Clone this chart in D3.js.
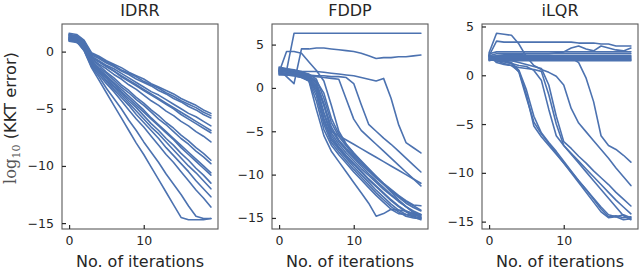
<!DOCTYPE html>
<html><head><meta charset="utf-8">
<script src="https://cdn.jsdelivr.net/npm/d3@7"></script>
<style>
body{margin:0;background:#fff}
svg{display:block}
text{font-family:"DejaVu Sans",sans-serif;fill:#262626}
</style>
</head><body>
<svg id="chart" width="640" height="271"></svg>
<script>
const iterations = [0,1,2,3,4,5,6,7,8,9,10,11,12,13,14,15,16,17,18,19];
const titles = ["IDRR","FDDP","iLQR"];
const xTickValues = [0,10];
const idrrTicks = [0,-5,-10,-15];
const fddpTicks = [5,0,-5,-10,-15];
const ilqrTicks = [5,0,-5,-10,-15];
const xLabel = "No. of iterations";

const idrrSeries = [
 [1.6,1.5,1.0,-0.1,-0.4,-0.8,-1.1,-1.4,-1.8,-2.1,-2.4,-2.8,-3.1,-3.4,-3.7,-4.1,-4.4,-4.7,-5.1,-5.4],
 [1.5,1.4,0.9,-0.2,-0.5,-0.9,-1.2,-1.6,-1.9,-2.2,-2.6,-2.9,-3.2,-3.6,-3.9,-4.3,-4.6,-4.9,-5.3,-5.6],
 [1.4,1.3,0.9,-0.3,-0.6,-1.0,-1.3,-1.7,-2.0,-2.4,-2.7,-3.0,-3.4,-3.7,-4.1,-4.4,-4.8,-5.1,-5.5,-5.8],
 [1.3,1.2,0.8,-0.4,-0.8,-1.2,-1.5,-1.9,-2.3,-2.7,-3.1,-3.5,-3.8,-4.2,-4.6,-5.0,-5.4,-5.7,-6.1,-6.5],
 [1.2,1.1,0.7,-0.5,-0.9,-1.3,-1.7,-2.1,-2.5,-2.9,-3.3,-3.7,-4.1,-4.5,-4.9,-5.3,-5.7,-6.1,-6.5,-6.9],
 [1.5,1.3,0.8,-0.5,-0.9,-1.3,-1.7,-2.2,-2.6,-3.0,-3.4,-3.8,-4.2,-4.6,-5.0,-5.5,-5.9,-6.3,-6.7,-7.1],
 [1.1,1.0,0.6,-0.6,-1.1,-1.5,-2.0,-2.4,-2.9,-3.3,-3.8,-4.3,-4.7,-5.2,-5.6,-6.1,-6.5,-7.0,-7.4,-7.9],
 [1.4,1.2,0.6,-0.7,-1.2,-1.8,-2.3,-2.9,-3.4,-4.0,-4.5,-5.1,-5.6,-6.2,-6.7,-7.3,-7.8,-8.4,-8.9,-9.5],
 [1.0,0.9,0.5,-0.8,-1.4,-1.9,-2.5,-3.1,-3.6,-4.2,-4.7,-5.3,-5.9,-6.4,-7.0,-7.6,-8.1,-8.7,-9.2,-9.8],
 [1.3,1.1,0.5,-0.9,-1.5,-2.1,-2.7,-3.3,-3.9,-4.5,-5.1,-5.8,-6.4,-7.0,-7.6,-8.2,-8.8,-9.4,-10.0,-10.6],
 [0.9,0.8,0.4,-1.0,-1.6,-2.2,-2.8,-3.5,-4.1,-4.7,-5.3,-5.9,-6.5,-7.1,-7.7,-8.4,-9.0,-9.6,-10.2,-10.8],
 [1.2,1.0,0.4,-1.0,-1.7,-2.3,-3.0,-3.6,-4.3,-4.9,-5.6,-6.3,-6.9,-7.6,-8.2,-8.9,-9.5,-10.2,-10.8,-11.5],
 [1.1,1.0,0.3,-1.1,-1.8,-2.5,-3.1,-3.8,-4.5,-5.2,-5.9,-6.6,-7.2,-7.9,-8.6,-9.3,-10.0,-10.6,-11.3,-12.0],
 [1.0,0.9,0.3,-1.1,-1.8,-2.6,-3.3,-4.0,-4.7,-5.5,-6.2,-6.9,-7.6,-8.4,-9.1,-9.8,-10.5,-11.3,-12.0,-12.7],
 [1.2,1.0,0.2,-1.2,-2.0,-2.8,-3.5,-4.3,-5.1,-5.9,-6.6,-7.4,-8.2,-9.0,-9.7,-10.5,-11.3,-12.1,-12.8,-13.6],
 [1.0,0.9,0.1,-1.3,-2.2,-3.2,-4.1,-5.0,-6.0,-6.9,-7.9,-8.8,-9.7,-10.7,-11.6,-12.5,-13.5,-14.4,-14.6,-14.6],
 [1.1,0.9,0.1,-1.4,-2.5,-3.6,-4.7,-5.8,-6.9,-8.0,-9.0,-10.1,-11.2,-12.3,-13.4,-14.5,-14.7,-14.7,-14.7,-14.6]
];

const fddpSeries = [
 [1.9,2.0,6.3,6.3,6.3,6.3,6.3,6.3,6.3,6.3,6.3,6.3,6.3,6.3,6.3,6.3,6.3,6.3,6.3,6.3],
 [2.1,1.3,0.5,4.5,4.5,4.6,4.6,4.5,4.4,4.3,4.2,4.0,3.7,3.4,3.5,3.5,3.6,3.6,3.7,3.8],
 [1.8,4.2,4.2,4.0,3.0,2.0,0.8,-2.0,-5.0,-6.5,-7.5,-8.4,-9.3,-10.2,-11.1,-12.0,-12.9,-13.7,-14.4,-15.0],
 [2.0,1.9,1.9,1.9,1.9,1.9,1.8,1.7,1.6,1.5,1.4,1.2,1.0,0.8,1.1,-1.2,-4.2,-6.3,-6.9,-7.5],
 [1.7,1.6,1.6,1.5,1.5,1.4,1.4,1.3,1.3,1.2,0.5,-1.9,-4.2,-5.0,-5.8,-6.5,-7.3,-8.1,-8.9,-9.7],
 [2.2,2.0,1.8,1.6,1.4,1.3,1.2,1.1,1.0,-1.3,-3.6,-4.9,-5.7,-6.5,-7.3,-8.1,-8.9,-9.7,-10.5,-11.3],
 [2.0,1.9,1.8,1.6,1.2,0.3,-2.0,-5.0,-5.5,-6.0,-6.5,-7.0,-7.5,-8.0,-8.5,-9.0,-9.5,-10.0,-10.5,-11.0],
 [1.6,1.5,1.4,1.2,0.8,-2.5,-5.5,-7.3,-8.5,-9.7,-10.9,-12.1,-13.3,-14.8,-14.5,-14.0,-14.1,-14.2,-14.5,-14.6],
 [2.3,2.2,2.1,1.9,1.5,0.5,-2.0,-4.5,-6.0,-7.0,-7.9,-8.8,-9.6,-10.4,-11.1,-11.8,-12.5,-13.1,-13.6,-14.1],
 [1.9,1.8,1.7,1.5,1.0,-0.5,-3.5,-5.8,-6.9,-7.9,-8.8,-9.7,-10.6,-11.4,-12.2,-13.0,-13.7,-14.3,-14.8,-15.0],
 [2.1,2.0,1.9,1.7,1.3,0.2,-2.8,-5.2,-6.5,-7.5,-8.4,-9.3,-10.1,-10.9,-11.7,-12.4,-13.1,-13.7,-14.2,-14.6],
 [1.5,1.5,1.4,1.2,0.9,-0.9,-4.2,-6.3,-7.4,-8.4,-9.4,-10.3,-11.2,-12.1,-12.9,-13.7,-14.3,-14.8,-15.0,-15.1],
 [2.4,2.2,2.0,1.8,1.6,1.0,-1.2,-4.0,-5.6,-6.7,-7.7,-8.6,-9.4,-10.2,-11.0,-11.7,-12.4,-13.0,-13.5,-13.6],
 [1.8,1.7,1.6,1.4,1.1,0.0,-3.0,-5.5,-6.8,-7.8,-8.7,-9.6,-10.5,-11.3,-12.1,-12.9,-13.6,-14.2,-14.6,-14.9],
 [2.0,1.9,1.8,1.6,1.3,0.6,-1.8,-4.8,-6.2,-7.2,-8.1,-9.0,-9.9,-10.7,-11.5,-12.3,-13.0,-13.7,-14.3,-14.8],
 [1.7,1.6,1.5,1.3,1.0,-0.2,-3.8,-6.0,-7.1,-8.1,-9.1,-10.0,-10.9,-11.8,-12.6,-13.4,-14.1,-14.6,-14.9,-15.2],
 [2.2,2.1,2.0,1.8,1.4,0.8,-0.6,-3.5,-5.3,-6.5,-7.5,-8.5,-9.4,-10.3,-11.1,-11.9,-12.6,-13.3,-13.8,-14.2],
 [1.6,1.6,1.5,1.3,0.8,-1.5,-4.8,-6.6,-7.7,-8.7,-9.7,-10.6,-11.5,-12.4,-13.2,-14.0,-14.5,-14.6,-14.7,-14.7]
];

const ilqrSeries = [
 [2.0,1.9,1.9,1.9,1.8,1.8,1.8,1.8,1.8,1.8,1.8,1.8,1.3,-0.3,-2.7,-6.2,-7.2,-7.6,-8.2,-8.9],
 [2.3,4.3,4.2,4.1,3.2,1.9,1.0,0.6,0.3,-0.1,-1.0,-3.4,-4.9,-5.8,-6.7,-7.6,-8.5,-9.5,-10.4,-11.3],
 [1.8,1.7,1.6,1.5,1.3,1.1,0.9,0.7,-1.0,-4.2,-6.8,-7.5,-8.3,-9.0,-9.8,-10.5,-11.2,-12.0,-12.7,-13.4],
 [2.0,1.5,1.2,1.0,0.8,0.7,0.6,0.4,-2.0,-5.0,-7.2,-8.0,-8.8,-9.6,-10.4,-11.2,-12.0,-12.8,-13.5,-14.2],
 [1.6,1.5,1.4,1.2,0.3,-2.3,-4.8,-6.0,-7.0,-8.0,-9.0,-10.0,-11.0,-12.0,-13.0,-14.0,-14.6,-14.5,-14.8,-14.7],
 [1.9,1.7,1.5,1.3,0.5,-1.5,-4.2,-5.9,-6.9,-7.8,-8.8,-9.8,-10.8,-11.7,-12.7,-13.7,-14.5,-14.4,-14.6,-14.5],
 [2.1,1.3,1.1,1.0,0.4,-2.0,-5.2,-6.3,-7.2,-8.1,-9.0,-9.9,-10.8,-11.7,-12.6,-13.5,-14.3,-14.5,-14.3,-14.6],
 [1.7,1.6,1.4,1.2,1.0,0.9,0.5,-0.5,-3.5,-6.2,-7.2,-8.1,-9.0,-9.9,-10.8,-11.7,-12.6,-13.5,-14.4,-14.8],
 [2.0,3.5,3.4,3.4,3.4,3.4,3.4,3.4,3.4,3.4,3.4,3.4,3.3,3.3,3.3,3.2,3.2,3.0,3.0,3.0],
 [1.9,2.0,2.1,2.1,2.1,2.2,2.2,2.2,2.2,2.3,2.4,2.8,3.0,2.7,2.5,3.0,2.8,2.6,2.5,2.8],
 [2.2,2.4,2.4,2.4,2.4,2.4,2.4,2.4,2.4,2.4,2.4,2.4,2.4,2.4,2.4,2.4,2.4,2.4,2.4,2.4],
 [2.0,2.2,2.2,2.2,2.2,2.2,2.2,2.2,2.2,2.2,2.2,2.2,2.2,2.2,2.2,2.2,2.2,2.2,2.2,2.2],
 [1.8,2.0,2.0,2.0,2.0,2.0,2.0,2.0,2.0,2.0,2.0,2.0,2.0,2.0,2.0,2.0,2.0,2.0,2.0,2.0],
 [1.7,1.9,1.9,1.9,1.9,1.9,1.9,1.9,1.9,1.9,1.9,1.9,1.9,1.9,1.9,1.9,1.9,1.9,1.9,1.9],
 [1.6,1.8,1.8,1.8,1.8,1.8,1.8,1.8,1.8,1.8,1.8,1.8,1.8,1.8,1.8,1.8,1.8,1.8,1.8,1.8],
 [1.5,1.7,1.7,1.7,1.7,1.7,1.7,1.7,1.7,1.7,1.7,1.7,1.7,1.7,1.7,1.7,1.7,1.7,1.7,1.7],
 [2.1,1.6,1.6,1.6,1.6,1.6,1.6,1.6,1.6,1.6,1.6,1.6,1.6,1.6,1.6,1.6,1.6,1.6,1.6,1.6],
 [1.9,1.5,1.5,1.5,1.5,1.5,1.5,1.5,1.5,1.5,1.5,1.5,1.5,1.5,1.5,1.5,1.5,1.5,1.5,1.5]
];

const panels = [
  {title: titles[0], series: idrrSeries, ticks: idrrTicks, left: 62},
  {title: titles[1], series: fddpSeries, ticks: fddpTicks, left: 272},
  {title: titles[2], series: ilqrSeries, ticks: ilqrTicks, left: 482}
];
const W = 156, TOP = 24, BOTTOM = 229;
const color = "#4c72b0";
const svg = d3.select("#chart");

function padded(ext){ const r = ext[1]-ext[0]; return [ext[0]-0.05*r, ext[1]+0.05*r]; }

panels.forEach(p => {
  const g = svg.append("g");
  const x = d3.scaleLinear().domain(padded(d3.extent(iterations))).range([p.left, p.left+W]);
  const allVals = p.series.flat();
  const y = d3.scaleLinear().domain(padded(d3.extent(allVals))).range([BOTTOM, TOP]);
  const line = d3.line().x((d,i)=>x(iterations[i])).y(d=>y(d));
  g.append("g").selectAll("path").data(p.series).join("path")
    .attr("d", line).attr("fill","none").attr("stroke",color)
    .attr("stroke-width",1.6).attr("stroke-linejoin","round").attr("stroke-linecap","round");
  g.append("rect").attr("x",p.left).attr("y",TOP).attr("width",W).attr("height",BOTTOM-TOP)
    .attr("fill","none").attr("stroke","#5a5a5a").attr("stroke-width",1.1);
  const yAxis = d3.axisLeft(y).tickValues(p.ticks).tickSize(-4).tickPadding(8)
    .tickFormat(d => d < 0 ? "\u2212" + Math.abs(d) : String(d));
  const ya = g.append("g").attr("transform",`translate(${p.left},0)`).call(yAxis);
  ya.select(".domain").remove();
  ya.selectAll(".tick line").attr("stroke","#262626").attr("stroke-width",1.2);
  ya.selectAll(".tick text").attr("font-size",12.5).attr("font-family","DejaVu Sans").attr("fill","#262626");
  const xAxis = d3.axisBottom(x).tickValues(xTickValues).tickSize(-4).tickPadding(7);
  const xa = g.append("g").attr("transform",`translate(0,${BOTTOM})`).call(xAxis);
  xa.select(".domain").remove();
  xa.selectAll(".tick line").attr("stroke","#262626").attr("stroke-width",1.2);
  xa.selectAll(".tick text").attr("font-size",12.5).attr("font-family","DejaVu Sans").attr("fill","#262626");
  g.append("text").attr("x",p.left+W/2).attr("y",16).attr("text-anchor","middle")
    .attr("font-size",16).text(p.title);
  g.append("text").attr("x",p.left+W/2).attr("y",266.5).attr("text-anchor","middle")
    .attr("font-size",16).text(xLabel);
});

const yl = svg.append("text").attr("transform","translate(16,118) rotate(-90)").attr("text-anchor","middle").attr("font-size",16.3);
yl.append("tspan").attr("font-family","DejaVu Serif").attr("fill","#555").text("log");
yl.append("tspan").attr("font-family","DejaVu Serif").attr("fill","#555").attr("font-size",11).attr("dy",3.5).text("10");
yl.append("tspan").attr("dy",-3.5).text(" (KKT error)");
</script>
</body></html>
